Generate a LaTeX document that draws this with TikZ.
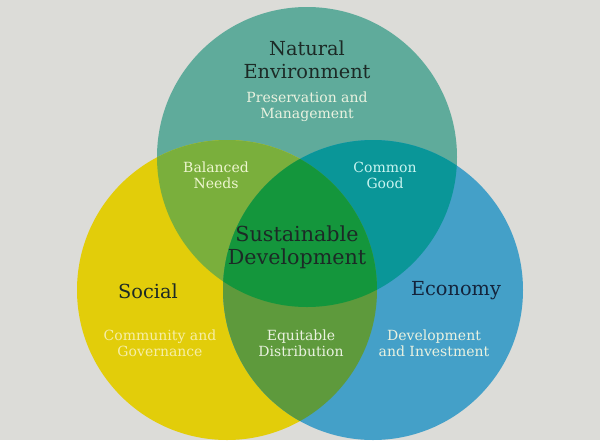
\documentclass[tikz,border=0pt]{standalone}
\usepackage{fontspec}
\setmainfont{DejaVu Serif}
\definecolor{bg}{HTML}{DCDCD8}
\definecolor{cteal}{HTML}{5FAB9B}
\definecolor{cyel}{HTML}{E2CD0A}
\definecolor{cblue}{HTML}{44A0C8}
\definecolor{cyt}{HTML}{7AAF3C}
\definecolor{ctb}{HTML}{0A9698}
\definecolor{cyb}{HTML}{5E9A3C}
\definecolor{cmid}{HTML}{14963C}
\definecolor{tdark}{HTML}{1C2A26}
\definecolor{tnavy}{HTML}{14243C}
\definecolor{tlight}{HTML}{EAF2E0}
\definecolor{tyel}{HTML}{F6EEA8}
\definecolor{tcyan}{HTML}{C8F4F0}
\definecolor{tgreen}{HTML}{EEF6D0}
\tikzset{
  title/.style={align=center, text=tdark, font=\fontsize{14.5}{17.5}\selectfont, inner sep=0pt},
  sub/.style={align=center, font=\fontsize{10.5}{12}\selectfont, inner sep=0pt},
}
\begin{document}
\begin{tikzpicture}[x=0.75pt,y=-0.75pt]
\fill[bg] (0,0) rectangle (600,440);
\useasboundingbox (0,0) rectangle (600,440);
\coordinate (T) at (307,157);
\coordinate (L) at (227,290);
\coordinate (R) at (373,290);
\fill[cteal] (T) circle (150);
\fill[cyel] (L) circle (150);
\fill[cblue] (R) circle (150);
\begin{scope}
  \clip (T) circle (150);
  \fill[cyt] (L) circle (150);
  \fill[ctb] (R) circle (150);
\end{scope}
\begin{scope}
  \clip (L) circle (150);
  \fill[cyb] (R) circle (150);
  \clip (R) circle (150);
  \fill[cmid] (T) circle (150);
\end{scope}
\node[title] (nat) at (307,60) {Natural\\Environment};
\node[sub, text=tlight] (pres) at (307,107) {Preservation and\\Management};
\node[sub, text=tgreen] (bal) at (216,175) {Balanced\\Needs};
\node[sub, text=tcyan] (com) at (385,175) {Common\\Good};
\node[title, font=\fontsize{15.5}{17}\selectfont] (sus) at (297,247) {Sustainable\\Development};
\node[title] (soc) at (148,291) {Social};
\node[title, text=tnavy] (eco) at (456,291) {Economy};
\node[sub, text=tyel] (cg) at (160,343) {Community and\\Governance};
\node[sub, text=tlight] (eq) at (301,343) {Equitable\\Distribution};
\node[sub, text=tlight] (di) at (434,343) {Development\\and Investment};
\end{tikzpicture}
\end{document}
